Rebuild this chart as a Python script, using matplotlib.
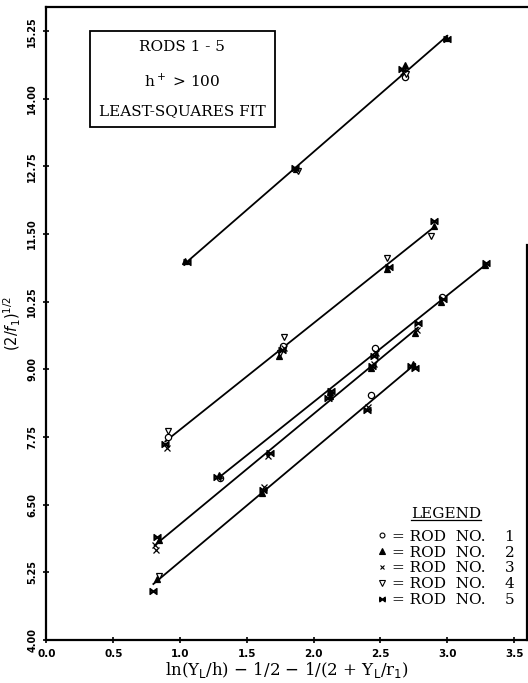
import numpy as np
import matplotlib
matplotlib.use('Agg')
import matplotlib.pyplot as plt
from matplotlib.lines import Line2D

# points: one group per fitted line, rod number for every point
grpA_x = [1.04, 1.05, 1.86, 1.87, 1.88, 2.66, 2.67, 2.68, 2.68, 2.69, 2.99, 3.00]
grpA_y = [11.01, 10.99, 12.72, 12.70, 12.66, 14.55, 14.50, 14.40, 14.62, 14.45, 15.13, 15.10]
grpA_rod = [2, 5, 5, 2, 4, 5, 3, 1, 2, 4, 2, 5]

grpB_x = [0.89, 0.90, 0.91, 0.91, 1.74, 1.75, 1.76, 1.77, 1.78, 1.78, 2.55, 2.55, 2.56, 2.88, 2.90, 2.90]
grpB_y = [7.62, 7.55, 7.75, 7.87, 9.25, 9.30, 9.35, 9.44, 9.40, 9.60, 10.85, 11.05, 10.90, 11.47, 11.65, 11.75]
grpB_rod = [5, 3, 1, 4, 2, 4, 5, 1, 3, 4, 2, 4, 5, 4, 2, 5]

grpC_x = [1.28, 1.29, 1.30, 2.12, 2.13, 2.45, 2.46, 2.47, 2.95, 2.96, 2.97, 3.28, 3.29]
grpC_y = [7.01, 7.04, 7.00, 8.58, 8.60, 9.25, 9.40, 9.30, 10.25, 10.33, 10.30, 10.92, 10.96]
grpC_rod = [5, 2, 1, 2, 5, 5, 1, 3, 2, 1, 5, 2, 5]

grpD_x = [0.81, 0.82, 0.83, 0.84, 1.66, 1.67, 2.11, 2.12, 2.43, 2.44, 2.45, 2.76, 2.77, 2.78]
grpD_y = [5.75, 5.66, 5.90, 5.85, 7.40, 7.45, 8.47, 8.50, 9.02, 9.07, 9.10, 9.68, 9.72, 9.85]
grpD_rod = [3, 3, 5, 2, 3, 5, 5, 2, 2, 5, 3, 2, 3, 5]

grpE_x = [0.80, 0.83, 0.84, 1.61, 1.62, 1.63, 2.40, 2.41, 2.43, 2.73, 2.74, 2.76]
grpE_y = [4.90, 5.12, 5.18, 6.72, 6.77, 6.82, 8.25, 8.30, 8.52, 9.07, 9.10, 9.03]
grpE_rod = [5, 2, 4, 2, 5, 3, 5, 3, 1, 5, 2, 5]

groups = [(grpA_x, grpA_y, grpA_rod), (grpB_x, grpB_y, grpB_rod), (grpC_x, grpC_y, grpC_rod),
          (grpD_x, grpD_y, grpD_rod), (grpE_x, grpE_y, grpE_rod)]

rod_names = [1, 2, 3, 4, 5]
xticks = [0.0, 0.5, 1.0, 1.5, 2.0, 2.5, 3.0, 3.5]
xtick_labels = ['0.0', '0.5', '1.0', '1.5', '2.0', '2.5', '3.0', '3.5']
yticks = [4.00, 5.25, 6.50, 7.75, 9.00, 10.25, 11.50, 12.75, 14.00, 15.25]
ytick_labels = ['4.00', '5.25', '6.50', '7.75', '9.00', '10.25', '11.50', '12.75', '14.00', '15.25']

# marker style per rod
styles = {
    1: dict(marker='o', mfc='white', ms=4.5),
    2: dict(marker='^', mfc='black', ms=5),
    3: dict(marker='x', mfc='black', ms=4.5),
    4: dict(marker='v', mfc='white', ms=5),
    5: dict(marker=r'$\bowtie$', mfc='black', ms=5),
}

fig = plt.figure(figsize=(5.28, 6.83), dpi=100)
ax = fig.add_axes([0.088, 0.063, 0.911, 0.927])

for gx, gy, grod in groups:
    gx = np.array(gx)
    gy = np.array(gy)
    grod = np.array(grod)
    # least-squares fit through each group
    p = np.polyfit(gx, gy, 1)
    xs = np.array([gx.min(), gx.max()])
    ax.plot(xs, np.polyval(p, xs), color='black', lw=1.3, zorder=2)
    for r in rod_names:
        m = grod == r
        if m.any():
            ax.plot(gx[m], gy[m], ls='none', color='black', mec='black', mew=0.9,
                    zorder=3, **styles[r])

ax.set_xlim(0.0, 3.6)
ax.set_ylim(4.0, 15.7)
ax.set_xticks(xticks)
ax.set_xticklabels(xtick_labels, fontsize=7.5, fontweight='bold', family='DejaVu Sans')
ax.set_yticks(yticks)
ax.set_yticklabels(ytick_labels, fontsize=7, fontweight='bold', rotation=90, va='center',
                   family='DejaVu Sans')
ax.tick_params(direction='inout', length=5, width=1.2, pad=4)
for s in ax.spines.values():
    s.set_linewidth(1.6)
ax.spines['right'].set_bounds(4.0, 11.3)

ax.set_xlabel(r'ln(Y$_\mathrm{L}$/h) $-$ 1/2 $-$ 1/(2 + Y$_\mathrm{L}$/r$_\mathrm{1}$)',
              family='DejaVu Serif', fontsize=12, labelpad=1)
ax.set_ylabel(r'$(2/f_1)^{1/2}$', family='DejaVu Serif', fontsize=10.5)
ax.yaxis.set_label_coords(-0.048, 0.5)

ax.text(0.282, 0.886, 'RODS 1 - 5\n' + r'h$^+$ > 100' + '\nLEAST-SQUARES FIT',
        transform=ax.transAxes, ha='center', va='center', family='DejaVu Serif',
        fontsize=11, linespacing=2.3,
        bbox=dict(boxstyle='square,pad=0.6', fc='white', ec='black', lw=1.3))

handles = []
labels = []
for r in rod_names:
    st = dict(styles[r])
    st['ms'] = st['ms'] - 1
    handles.append(Line2D([], [], ls='none', color='black', mec='black', mew=0.8, **st))
    labels.append('= ROD  NO.    %d' % r)
leg = ax.legend(handles, labels, loc='lower right', bbox_to_anchor=(0.995, 0.035),
                frameon=False, handlelength=0.6, handletextpad=0.35, labelspacing=0.12,
                title='LEGEND', prop=dict(family='DejaVu Serif', size=11),
                title_fontproperties=dict(family='DejaVu Serif', size=11), borderpad=0.2)
leg._legend_box.sep = 6

# underline the legend title
fig.canvas.draw()
bb = leg.get_title().get_window_extent()
inv = fig.transFigure.inverted()
(x0, y0), (x1, y1) = inv.transform([(bb.x0, bb.y0), (bb.x1, bb.y0)])
fig.add_artist(Line2D([x0, x1], [y0 + 0.002, y1 + 0.002], color='black', lw=0.9,
                      transform=fig.transFigure))

fig.savefig('out.png', dpi=100)
